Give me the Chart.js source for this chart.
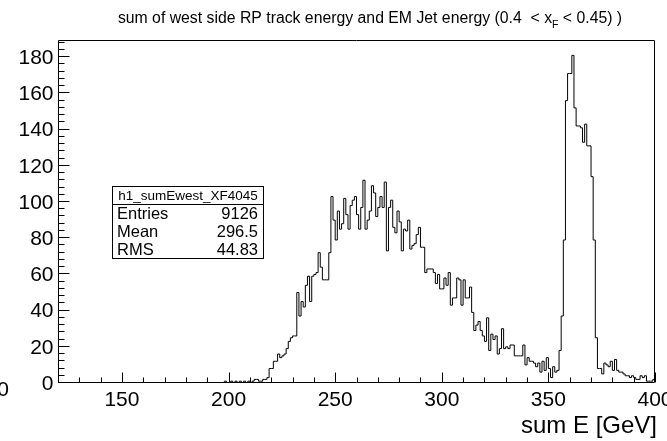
<!DOCTYPE html>
<html>
<head>
<meta charset="utf-8">
<script src="https://cdn.jsdelivr.net/npm/chart.js@4/dist/chart.umd.min.js"></script>
<style>
    html, body { margin: 0; padding: 0; background: #fff; }
    canvas { display: block; }
</style>
</head>
<body>
<canvas id="histCanvas" width="667" height="441"></canvas>
<script>
// h1_sumEwest_XF4045 : 1 GeV bins from 120 to 400 GeV

const binLow = 120;
const binHigh = 400;
const binWidth = 1;

// bins 120..197
const countsLowTail = [
    0, 0, 0, 0, 0, 0, 0, 0, 0, 0, 0, 0, 0, 0, 0, 0, 0, 0, 0, 0,
    0, 0, 0, 0, 0, 0, 0, 0, 0, 0, 0, 0, 0, 0, 0, 0, 0, 0, 0, 0,
    0, 0, 0, 0, 0, 0, 0, 0, 0, 0, 0, 0, 0, 0, 0, 0, 0, 0, 0, 0,
    0, 0, 0, 0, 0, 0, 0, 0, 0, 0, 0, 0, 0, 0, 0, 0, 0, 0
];
// bins 198..218
const countsOnset = [1, 0, 0, 1, 0, 1, 0, 1, 0, 1, 0, 1, 0, 1, 2, 2, 1, 1, 2, 2, 3];
// bins 219..245
const countsRise = [8, 8, 12, 12, 16, 14, 15, 16, 19, 23, 25, 26, 26, 50, 37, 45, 42, 54, 59, 45, 59, 60, 61, 72, 64, 57, 57];
// bins 246..291
const countsBump = [
    57, 72, 103, 90, 79, 95, 85, 88, 102, 93, 85, 98, 101, 103, 93, 85, 97, 112, 85, 90,
    95, 109, 105, 92, 97, 103, 97, 111, 73, 97, 101, 86, 83, 95, 89, 73, 85, 84, 90, 74,
    76, 77, 82, 86, 75, 75
];
// bins 292..354
const countsFall = [
    61, 63, 63, 63, 61, 55, 60, 52, 52, 58, 54, 61, 43, 47,
    47, 58, 57, 43, 57, 47, 47, 53, 39, 29, 32, 34, 29, 26, 23, 36, 18, 27, 24, 26,
    16, 19, 30, 19, 20, 19, 21, 21, 15, 15, 15, 15, 21, 10, 14, 12, 12, 11, 9, 11,
    6, 12, 7, 14, 8, 3, 9, 6, 7
];
// bins 355..372
const countsPeak = [18, 37, 79, 156, 171, 171, 181, 152, 142, 142, 141, 133, 143, 131, 131, 114, 79, 25];
// bins 373..399
const countsHighTail = [8, 8, 5, 11, 10, 9, 12, 7, 13, 7, 6, 6, 5, 4, 4, 3, 4, 3, 2, 2, 4, 3, 4, 1, 1, 1, 2];

const xTickLabels = [150, 200, 250, 300, 350, 400];
const yTickLabels = [0, 20, 40, 60, 80, 100, 120, 140, 160, 180];
const yMax = 189.5;

const histName = "h1_sumEwest_XF4045";
const statNames = ["Entries", "Mean", "RMS"];
const statValues = ["9126", "296.5", "44.83"];

const titleMain = "sum of west side RP track energy and EM Jet energy (0.4  < x";
const titleSub = "F";
const titleEnd = " < 0.45) )";
const xAxisTitle = "sum E [GeV]";

const FONT = "'Liberation Sans', Arial, Helvetica, sans-serif";

// Build the step points (left bin edges)
function makeHistPoints() {
    const counts = [].concat(countsLowTail, countsOnset, countsRise, countsBump, countsFall, countsPeak, countsHighTail);
    let points = [];
    for (let i = 0; i < counts.length; i++) {
        points.push({ x: binLow + i * binWidth, y: counts[i] });
    }
    points.push({ x: binHigh, y: counts[counts.length - 1] }); // close last bin
    return points;
}

// ROOT-like frame, inside ticks, labels, title and stat box
const rootDecorations = {
    id: "rootDecorations",
    afterDraw(chart) {
        const ctx = chart.ctx;
        const xs = chart.scales.x;
        const ys = chart.scales.y;
        const fl = Math.round(xs.getPixelForValue(binLow)) + 0.5;
        const fr = Math.round(xs.getPixelForValue(binHigh)) - 0.5;
        const ft = Math.round(ys.getPixelForValue(yMax)) + 0.5;
        const fb = Math.round(ys.getPixelForValue(0)) - 0.5;
        ctx.save();
        ctx.strokeStyle = "#000";
        ctx.fillStyle = "#000";
        ctx.lineWidth = 1;

        // frame
        ctx.beginPath();
        ctx.moveTo(fl, ft);
        ctx.lineTo(fr, ft);
        ctx.lineTo(fr, fb);
        ctx.lineTo(fl, fb);
        ctx.closePath();

        // x ticks (major 50, minor 10)
        for (let v = binLow; v <= binHigh; v += 10) {
            const px = Math.round(xs.getPixelForValue(v)) + 0.5;
            const len = (v % 50 == 0) ? 10 : 5;
            ctx.moveTo(px, fb);
            ctx.lineTo(px, fb - len);
        }
        // y ticks (major 20, minor 4)
        for (let v = 0; v <= yMax; v += 4) {
            const py = Math.round(ys.getPixelForValue(v)) - 0.5;
            const len = (v % 20 == 0) ? 11 : 6;
            ctx.moveTo(fl, py);
            ctx.lineTo(fl + len, py);
        }
        ctx.stroke();

        // tick labels
        ctx.font = "21px " + FONT;
        ctx.textAlign = "center";
        ctx.textBaseline = "alphabetic";
        for (const v of xTickLabels) {
            ctx.fillText(String(v), xs.getPixelForValue(v), 406);
        }
        ctx.textAlign = "right";
        ctx.textBaseline = "middle";
        for (const v of yTickLabels) {
            ctx.fillText(String(v), fl - 5, ys.getPixelForValue(v) + 1);
        }
        ctx.fillText("0", 9, 390);

        // axis title
        ctx.font = "24px " + FONT;
        ctx.textAlign = "right";
        ctx.textBaseline = "alphabetic";
        ctx.fillText(xAxisTitle, 657, 433);

        // title with subscript
        ctx.textAlign = "left";
        ctx.font = "15.8px " + FONT;
        const w1 = ctx.measureText(titleMain).width;
        const w3 = ctx.measureText(titleEnd).width;
        ctx.font = "10.5px " + FONT;
        const w2 = ctx.measureText(titleSub).width;
        let tx = 370 - (w1 + w2 + w3) / 2;
        ctx.font = "15.8px " + FONT;
        ctx.fillText(titleMain, tx, 23);
        ctx.font = "10.5px " + FONT;
        ctx.fillText(titleSub, tx + w1, 28);
        ctx.font = "15.8px " + FONT;
        ctx.fillText(titleEnd, tx + w1 + w2, 23);

        // stat box
        const bx = 112.5, by = 186.5, bw = 151, bh = 72;
        ctx.fillStyle = "#fff";
        ctx.fillRect(bx, by, bw, bh);
        ctx.fillStyle = "#000";
        ctx.strokeRect(bx, by, bw, bh);
        ctx.beginPath();
        ctx.moveTo(bx, 204.5);
        ctx.lineTo(bx + bw, 204.5);
        ctx.stroke();
        ctx.font = "13.5px " + FONT;
        ctx.textAlign = "center";
        ctx.textBaseline = "middle";
        ctx.fillText(histName, bx + bw / 2, 196);
        ctx.font = "16.5px " + FONT;
        const rowY = [214, 232, 250];
        for (let i = 0; i < statNames.length; i++) {
            ctx.textAlign = "left";
            ctx.fillText(statNames[i], 117, rowY[i]);
            ctx.textAlign = "right";
            ctx.fillText(statValues[i], 258, rowY[i]);
        }
        ctx.restore();
    }
};

const histChart = new Chart(document.querySelector("#histCanvas"), {
    type: "line",
    data: {
        datasets: [{
            data: makeHistPoints(),
            stepped: true,
            borderColor: "#000",
            borderWidth: 1,
            pointRadius: 0,
            fill: false
        }]
    },
    options: {
        responsive: false,
        animation: false,
        layout: { padding: { left: 58, right: 12, top: 40, bottom: 58 } },
        plugins: {
            legend: { display: false },
            tooltip: { enabled: false }
        },
        scales: {
            x: { type: "linear", min: binLow, max: binHigh, display: false },
            y: { min: 0, max: yMax, display: false }
        }
    },
    plugins: [rootDecorations]
});
</script>
</body>
</html>
